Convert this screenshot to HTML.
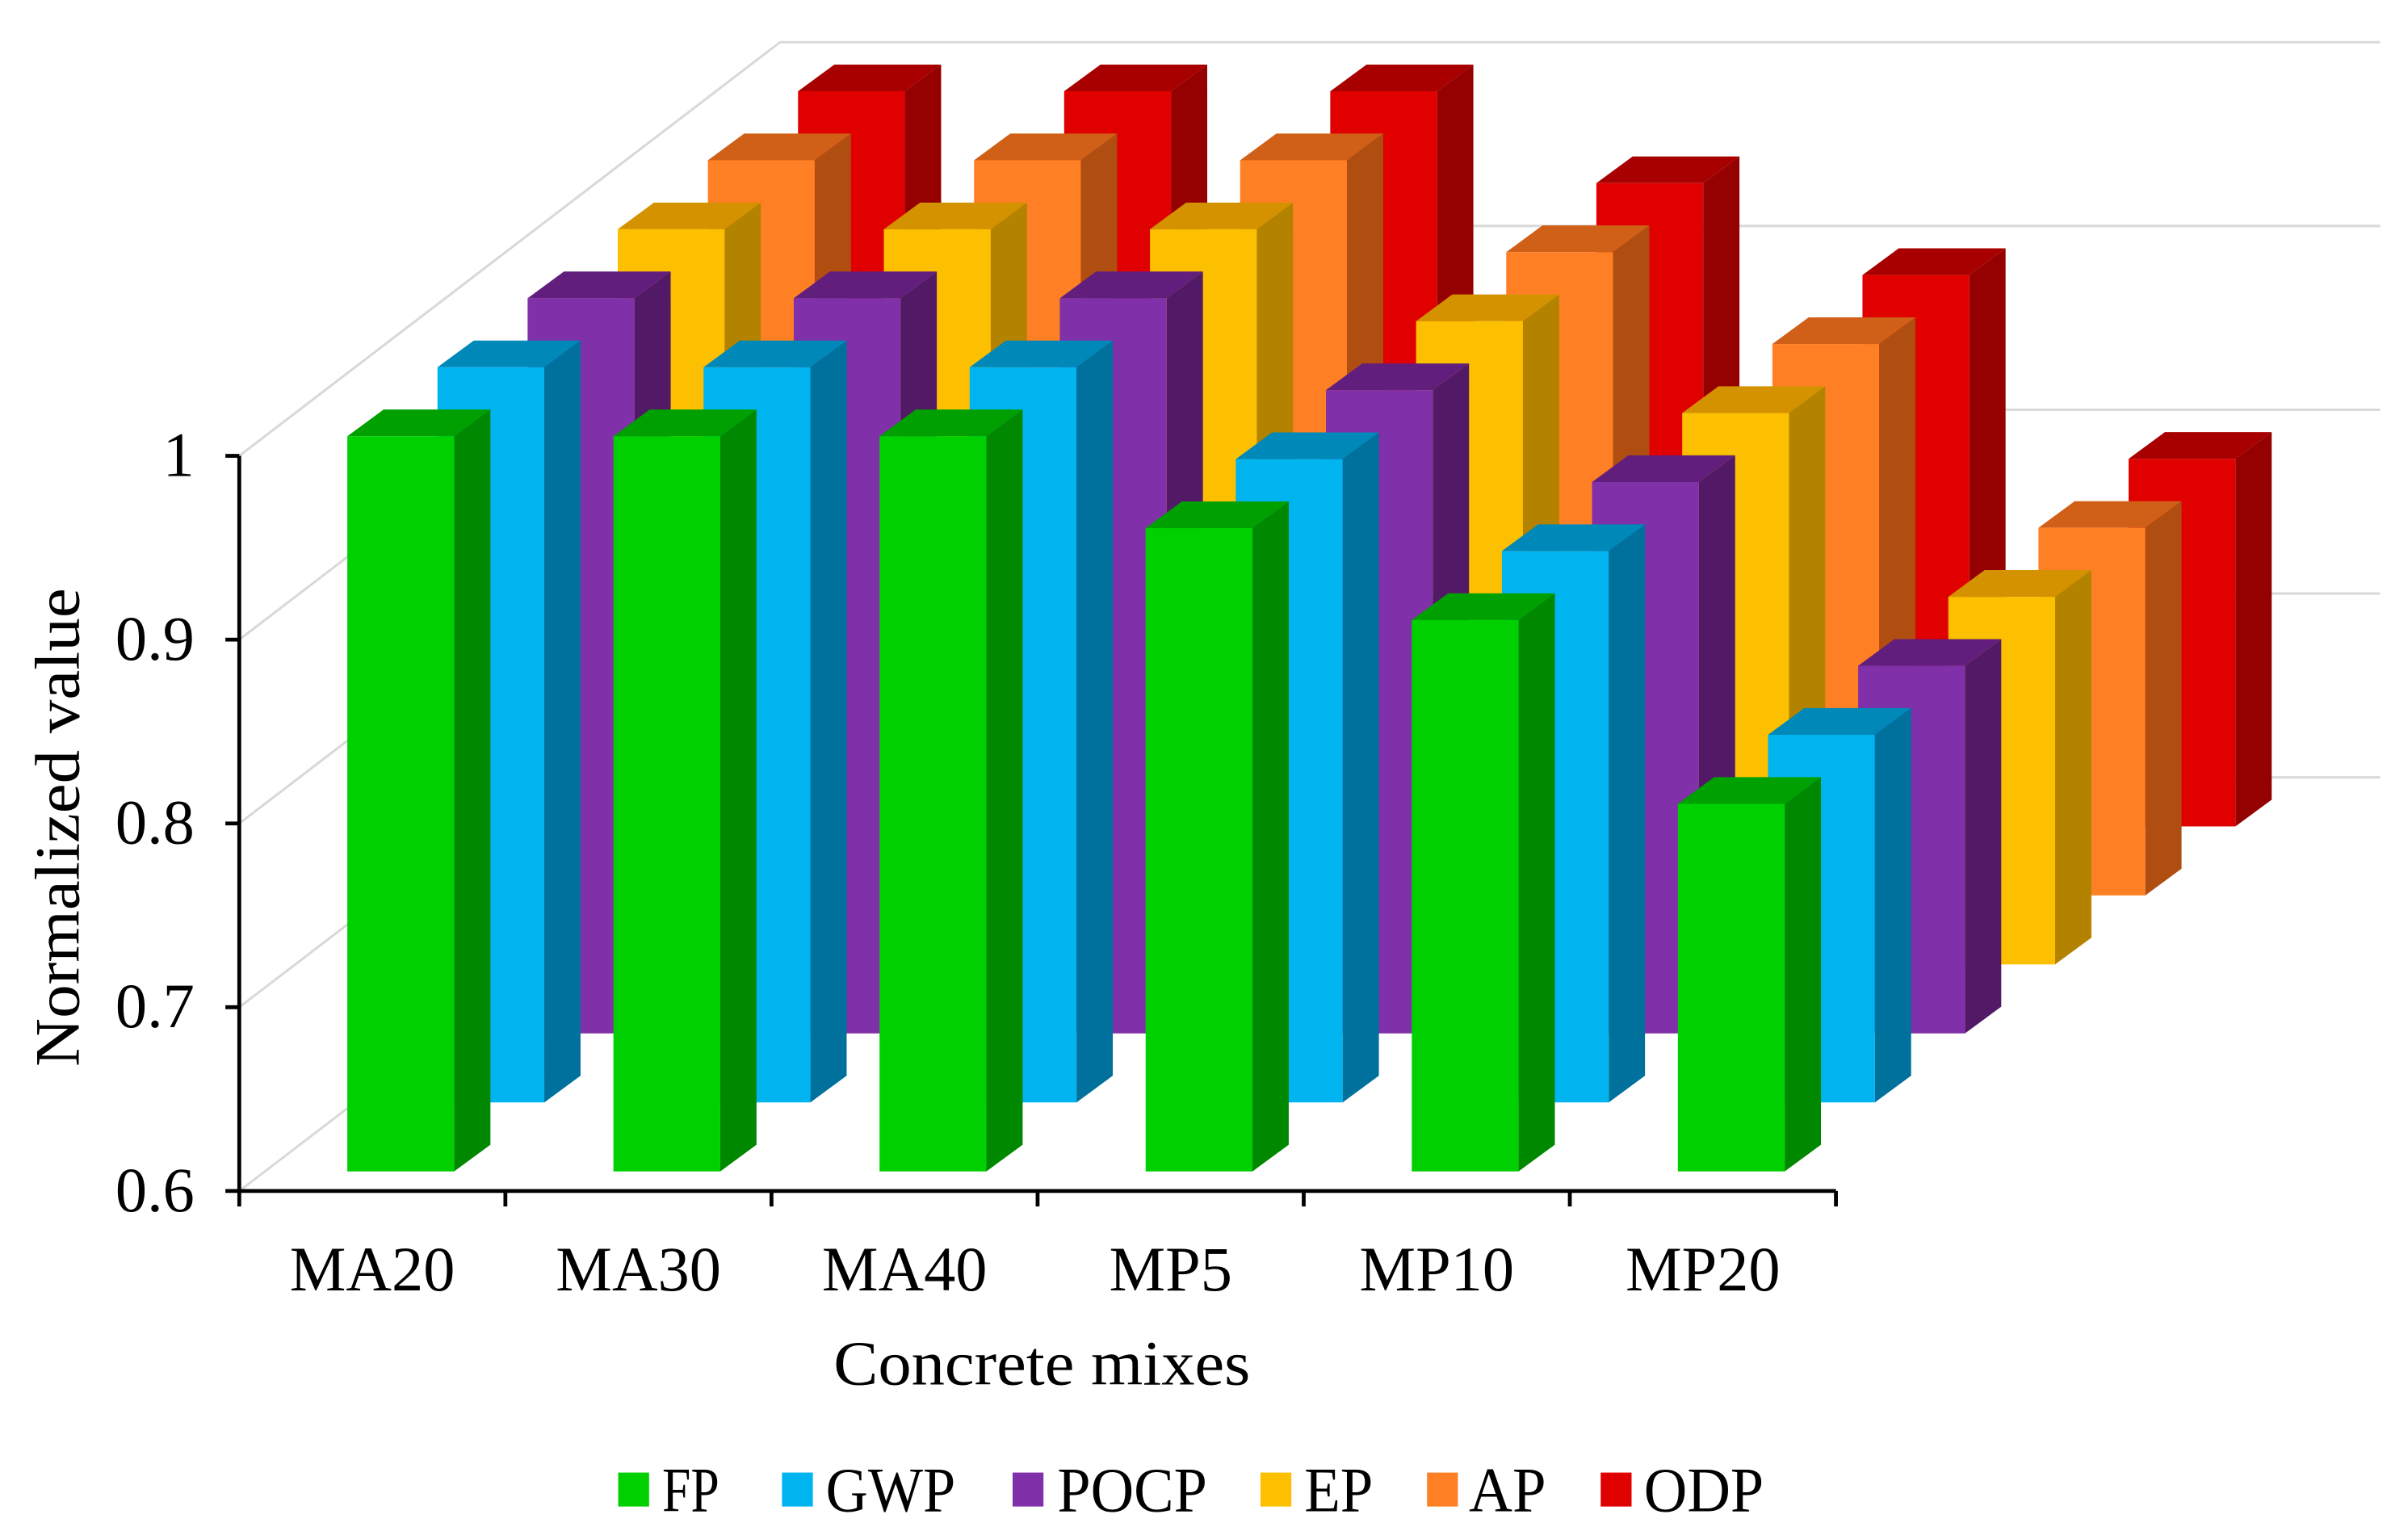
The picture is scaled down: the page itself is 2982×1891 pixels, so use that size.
<!DOCTYPE html>
<html><head><meta charset="utf-8"><style>
html,body{margin:0;padding:0;background:#fff}
svg{display:block}
text{font-family:"Liberation Serif",serif;fill:#000}
</style></head><body>
<svg id="chart" xmlns="http://www.w3.org/2000/svg" width="2982" height="1891" viewBox="0 0 1560 989.27">
<g id="grid"></g>
<g id="bars"></g>
<g id="axes"></g>
<text transform="translate(51,536) rotate(-90)" text-anchor="middle" font-size="41" textLength="310" lengthAdjust="spacingAndGlyphs">Normalized value</text>
<text x="675" y="897" text-anchor="middle" font-size="41" textLength="270" lengthAdjust="spacingAndGlyphs">Concrete mixes</text>
<g id="legend"></g>
</svg>
<script>
const categories = ["MA20","MA30","MA40","MP5","MP10","MP20"];
const seriesNames = ["FP","GWP","POCP","EP","AP","ODP"];
const fpValues = [1,1,1,0.95,0.9,0.8];
const gwpValues = [1,1,1,0.95,0.9,0.8];
const pocpValues = [1,1,1,0.95,0.9,0.8];
const epValues = [1,1,1,0.95,0.9,0.8];
const apValues = [1,1,1,0.95,0.9,0.8];
const odpValues = [1,1,1,0.95,0.9,0.8];
const yTicks = [0.6,0.7,0.8,0.9,1];
const yTickLabels = ["0.6","0.7","0.8","0.9","1"];

const allValues = [fpValues,gwpValues,pocpValues,epValues,apValues,odpValues];
const colors = [
 ["#00d000","#008800","#00a000"],
 ["#00b4f0","#00709c","#0088b8"],
 ["#8030a8","#521a66","#621e7c"],
 ["#fcc000","#b38300","#d49200"],
 ["#ff8024","#b04e12","#d06018"],
 ["#e00000","#950000","#a80000"]
];
const NS="http://www.w3.org/2000/svg";
const X0=155, CATW=172.4, Y0=771.6, PX_PER_UNIT=1190.7, VMIN=0.6;
const X1=X0+CATW*categories.length;
const DX=58.4, DY=44.7, BW=69.2, EX=23.5, EY=17.3, BACKX=DX*6, BACKY=268, RIGHT=1542;
function yS(v){return Y0-(v-VMIN)*PX_PER_UNIT;}
function xS(i){return X0+CATW*i+70;}
function mk(tag,attrs,parent){const e=document.createElementNS(NS,tag);for(const k in attrs)e.setAttribute(k,attrs[k]);parent.appendChild(e);return e;}

const grid=document.getElementById('grid');
yTicks.forEach((t,i)=>{
  const y=yS(t);
  const p=mk('polyline',{points:`${X0},${y} ${X0+BACKX},${y-BACKY} ${RIGHT},${y-BACKY}`,fill:'none',stroke:'#d9d9d9','stroke-width':1.6},grid);
  
  
});

const bars=document.getElementById('bars');
for(let k=allValues.length-1;k>=0;k--){
  const vals=allValues[k];
  for(let i=0;i<categories.length;i++){
    const x=xS(i)+DX*k;
    const bottom=Y0-12.7-DY*k;
    const top=bottom-(vals[i]-VMIN)*PX_PER_UNIT;
    const g=mk('g',{},bars);
    
    
    mk('polygon',{points:`${x+BW},${top} ${x+BW+EX},${top-EY} ${x+BW+EX},${bottom-EY} ${x+BW},${bottom}`,fill:colors[k][1]},g);
    mk('polygon',{points:`${x},${top} ${x+EX},${top-EY} ${x+BW+EX},${top-EY} ${x+BW},${top}`,fill:colors[k][2]},g);
    mk('rect',{x:x,y:top,width:BW,height:bottom-top,fill:colors[k][0]},g);
  }
}

const axes=document.getElementById('axes');
let a=mk('line',{x1:X0,y1:yS(1),x2:X0,y2:Y0,stroke:'#000','stroke-width':2.5},axes);

a=mk('line',{x1:X0,y1:Y0,x2:X1,y2:Y0,stroke:'#000','stroke-width':2.5},axes);

yTicks.forEach((t,i)=>{
  const y=yS(t);
  const l=mk('line',{x1:X0-9,y1:y,x2:X0,y2:y,stroke:'#000','stroke-width':2.5},axes);
  
  const tx=mk('text',{x:126,y:y+13,'text-anchor':'end','font-size':41},axes);
  tx.textContent=yTickLabels[i];
  
  
});
for(let i=0;i<=categories.length;i++){
  const x=X0+CATW*i;
  const l=mk('line',{x1:x,y1:Y0,x2:x,y2:Y0+10,stroke:'#000','stroke-width':2.5},axes);
  
}
categories.forEach((c,i)=>{
  const tx=mk('text',{x:X0+CATW*(i+0.5),y:836,'text-anchor':'middle','font-size':41},axes);
  tx.textContent=c;
  
  
});

const legend=document.getElementById('legend');
const legX=[400.5,506.6,656,816.6,924.5,1037];
const legTextX=[429,535,685,845,951.6,1065];
const legTextW=[37,84,97,44.5,50,77.6];
seriesNames.forEach((s,k)=>{
  const g=mk('g',{},legend);
  
  
  mk('rect',{x:legX[k],y:954,width:20,height:22,fill:colors[k][0]},g);
  const t=mk('text',{x:legTextX[k],y:979,'font-size':41,textLength:legTextW[k],lengthAdjust:'spacingAndGlyphs'},g);
  t.textContent=s;
});
</script>
</body></html>
